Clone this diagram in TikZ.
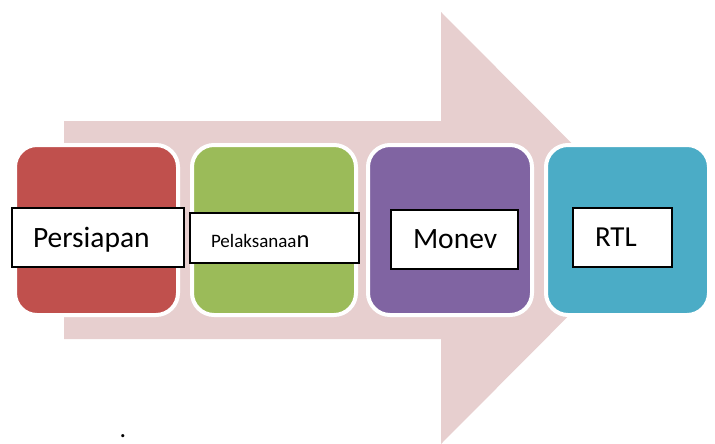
\documentclass[tikz,border=0pt]{standalone}
\usepackage{fontspec}
\setmainfont{Carlito}
\definecolor{arrowpink}{HTML}{E7CFCF}
\definecolor{cred}{HTML}{C0504D}
\definecolor{cgreen}{HTML}{9BBB59}
\definecolor{cpurple}{HTML}{8064A2}
\definecolor{cblue}{HTML}{4BACC6}
\tikzset{
  stage/.style={draw=white, line width=4pt, rounded corners=22pt},
  lbl/.style={draw=black, line width=1.6pt, fill=white, rectangle, align=left, inner ysep=0pt, text depth=0pt},
}
\begin{document}
\begin{tikzpicture}[x=1pt,y=-1pt]
\useasboundingbox (0,0) rectangle (715,444);
% big arrow
\fill[arrowpink] (64,121) -- (441,121) -- (441,12) -- (656,228) -- (441,444) -- (441,339) -- (64,339) -- cycle;
% stage boxes
\filldraw[stage, fill=cred]    (15,145) rectangle (178,315);
\filldraw[stage, fill=cgreen]  (192,145) rectangle (356,315);
\filldraw[stage, fill=cpurple] (368,145) rectangle (532,315);
\filldraw[stage, fill=cblue]   (546,145) rectangle (709,315);
% labels
\node[lbl, minimum height=59pt, inner xsep=21pt, text width=130pt, font=\fontsize{29.5}{32}\selectfont] (persiapan) at (98,237.5) {Persiapan};
\node[lbl, minimum height=50pt, inner xsep=21pt, text width=127pt] (pelaksanaan) at (274.5,238) {\raisebox{-5pt}{{\fontsize{19}{24}\selectfont Pelaksanaa}{\fontsize{24.5}{28}\selectfont n}}};
\node[lbl, minimum height=59pt, inner xsep=22pt, text width=83pt, font=\fontsize{29.5}{32}\selectfont] (monev) at (454.5,239.5) {Monev};
\node[lbl, minimum height=59pt, inner xsep=22pt, text width=55pt, font=\fontsize{29}{31}\selectfont] (rtl) at (622.5,237.5) {RTL};
% dot
\node[font=\fontsize{26}{28}\selectfont, inner sep=0pt, anchor=base] (dot) at (123,437) {.};
\end{tikzpicture}
\end{document}
